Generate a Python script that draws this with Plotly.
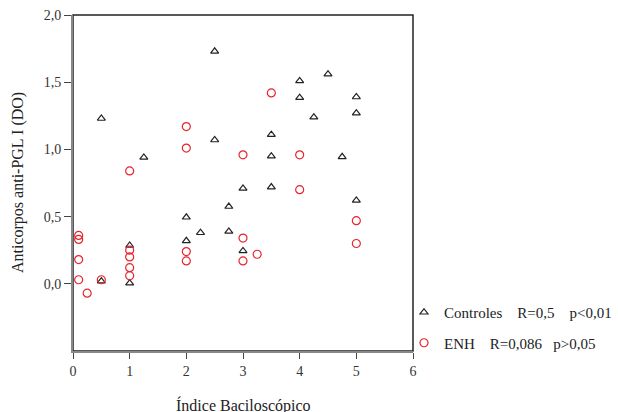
import plotly.graph_objects as go

# Controles (triangles)
ctrl_x = [0.5, 1.25, 2.5, 2.5, 0.5, 1, 1, 2, 2, 2.25, 2.75, 2.75, 3, 3, 3.5, 3.5, 3.5,
          4, 4, 4.25, 4.5, 4.75, 5, 5, 5]
ctrl_y = [1.23, 0.94, 1.73, 1.07, 0.02, 0.285, 0.005, 0.495, 0.32, 0.38, 0.575, 0.39, 0.71, 0.245,
          1.11, 0.95, 0.72, 1.51, 1.385, 1.24, 1.56, 0.945, 1.39, 1.27, 0.62]

# ENH (circles)
enh_x = [0.1, 0.1, 0.1, 0.1, 0.25, 0.5, 1, 1, 1, 1, 1, 2, 2, 2, 2, 3, 3, 3, 3.25, 3.5, 4, 4, 5, 5]
enh_y = [0.36, 0.33, 0.18, 0.03, -0.07, 0.03, 0.84, 0.25, 0.20, 0.12, 0.06, 1.17, 1.01, 0.24, 0.17,
         0.96, 0.34, 0.17, 0.22, 1.42, 0.96, 0.70, 0.47, 0.30]

x_ticks = [0, 1, 2, 3, 4, 5, 6]
y_ticks = [0.0, 0.5, 1.0, 1.5, 2.0]

NB = "\u00a0"
legend_ctrl = f"Controles{NB*4}R=0,5{NB*4}p<0,01"
legend_enh = f"ENH{NB*4}R=0,086{NB*3}p>0,05"

FONT = "Liberation Serif, Times New Roman, serif"

fig = go.Figure()
fig.add_trace(go.Scatter(
    x=ctrl_x, y=ctrl_y, mode="markers", name=legend_ctrl, legendgroup="a",
    marker=dict(symbol="triangle-up-open", size=7, color="#222222", line=dict(width=1.2)),
))
fig.add_trace(go.Scatter(
    x=enh_x, y=enh_y, mode="markers", name=legend_enh, legendgroup="b",
    marker=dict(symbol="circle-open", size=8, color="#e8242e", line=dict(width=1.2)),
))

fig.update_layout(
    width=618, height=412,
    margin=dict(l=73, r=205, t=15, b=61, autoexpand=False),
    paper_bgcolor="white", plot_bgcolor="white",
    separators=",.",
    font=dict(family=FONT, size=14, color="#222222"),
    showlegend=True,
    legend=dict(x=(404 - 73) / 340, xanchor="left", y=(351 - 296) / 336, yanchor="top",
                font=dict(family=FONT, size=15, color="#222222"),
                tracegroupgap=8, bgcolor="rgba(0,0,0,0)", itemsizing="trace"),
    shapes=[dict(type="rect", xref="paper", yref="paper", x0=0, x1=1, y0=0, y1=1,
                 line=dict(color="#222222", width=1.5), layer="below")],
    annotations=[
        dict(text="Anticorpos anti-PGL I (DO)", xref="paper", yref="paper",
             x=(18 - 73) / 340, y=0.5, textangle=-90, showarrow=False,
             xanchor="center", yanchor="middle", font=dict(family=FONT, size=16, color="#222222")),
        dict(text="Índice Baciloscópico", xref="paper", yref="paper",
             x=0.5, y=(351 - 405) / 336, showarrow=False,
             xanchor="center", yanchor="middle", font=dict(family=FONT, size=16, color="#222222")),
    ],
)

fig.update_xaxes(range=[0, 6], tickvals=x_ticks, ticktext=[str(v) for v in x_ticks],
                 showgrid=False, zeroline=False, showline=True, linecolor="#888888", linewidth=2,
                 ticks="outside", ticklen=6, tickcolor="#444444", tickwidth=1, automargin=False,
                 tickfont=dict(family=FONT, size=14, color="#333333"))
fig.update_yaxes(range=[-0.5, 2.0], tickvals=y_ticks, tickformat=".1f",
                 showgrid=False, zeroline=False, showline=True, linecolor="#888888", linewidth=2,
                 ticks="outside", ticklen=7, tickcolor="#444444", tickwidth=1, automargin=False,
                 tickfont=dict(family=FONT, size=14, color="#333333"))

fig.write_html("out.html", config={"displayModeBar": False},
               post_script="document.body.style.margin='0px';document.body.style.overflow='hidden';")
